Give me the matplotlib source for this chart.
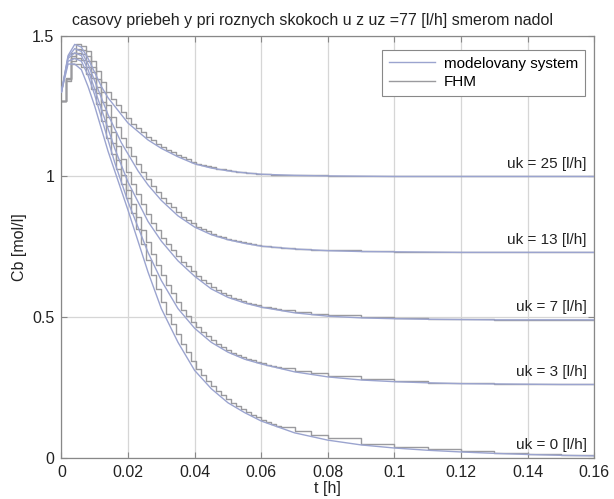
import numpy as np
import matplotlib.pyplot as plt

plt.rcParams['font.family'] = ['Liberation Sans', 'DejaVu Sans']

# time grid of the model curves [h]
t_model = [0, .002, .004, .006, .008, .01, .012, .014, .016, .018, .02, .023, .026, .03,
           .035, .04, .045, .05, .055, .06, .07, .08, .09, .1, .11, .12, .13, .14, .15, .16]

# modelovany system, Cb [mol/l] for each uk
model_uk25 = [1.30, 1.43, 1.47, 1.46, 1.42, 1.37, 1.32, 1.28, 1.25, 1.22, 1.19, 1.16, 1.13, 1.10,
              1.07, 1.045, 1.03, 1.02, 1.013, 1.008, 1.004, 1.002, 1.001, 1.0, 1.0, 1.0, 1.0, 1.0, 1.0, 1.0]
model_uk13 = [1.30, 1.425, 1.455, 1.445, 1.40, 1.34, 1.28, 1.22, 1.17, 1.12, 1.08, 1.02, 0.97, 0.915,
              0.86, 0.82, 0.793, 0.775, 0.762, 0.752, 0.742, 0.736, 0.733, 0.732, 0.731, 0.73, 0.73, 0.73, 0.73, 0.73]
model_uk7 = [1.30, 1.42, 1.44, 1.43, 1.38, 1.31, 1.24, 1.17, 1.10, 1.04, 0.98, 0.91, 0.84, 0.77,
             0.70, 0.645, 0.60, 0.57, 0.55, 0.535, 0.515, 0.503, 0.497, 0.494, 0.492, 0.491, 0.49, 0.49, 0.49, 0.49]
model_uk3 = [1.30, 1.41, 1.42, 1.41, 1.36, 1.29, 1.21, 1.13, 1.05, 0.98, 0.91, 0.82, 0.73, 0.63,
             0.53, 0.46, 0.41, 0.375, 0.35, 0.333, 0.305, 0.287, 0.276, 0.27, 0.266, 0.263, 0.262, 0.261, 0.26, 0.26]
model_uk0 = [1.30, 1.40, 1.40, 1.38, 1.32, 1.25, 1.17, 1.09, 1.02, 0.95, 0.88, 0.77, 0.66, 0.53,
             0.41, 0.31, 0.245, 0.195, 0.16, 0.13, 0.088, 0.062, 0.045, 0.034, 0.026, 0.02, 0.015, 0.011, 0.008, 0.006]

# sample times of the FHM (value held until next sample) [h]
t_fhm = [round(0.0015 * k, 4) for k in range(45)] + [.07, .075, .08, .09, .1, .11, .12, .13, .14, .15, .16]

fhm_uk25 = [1.27, 1.35, 1.44, 1.47, 1.465, 1.445, 1.41, 1.375, 1.335, 1.30, 1.275, 1.253, 1.23, 1.208,
            1.187, 1.172, 1.157, 1.142, 1.128, 1.117, 1.105, 1.095, 1.086, 1.077, 1.068, 1.061, 1.053,
            1.046, 1.041, 1.036, 1.032, 1.028, 1.025, 1.022, 1.019, 1.017, 1.015, 1.013, 1.012, 1.010,
            1.009, 1.008, 1.007, 1.006, 1.006,
            1.005, 1.004, 1.003, 1.002, 1.001, 1.0, 1.0, 1.0, 1.0, 1.0, 1.0]
fhm_uk13 = [1.27, 1.345, 1.43, 1.453, 1.45, 1.428, 1.39, 1.346, 1.30, 1.256, 1.212, 1.175, 1.137, 1.104,
            1.074, 1.044, 1.015, 0.99, 0.966, 0.945, 0.925, 0.906, 0.89, 0.873, 0.857, 0.846, 0.834,
            0.822, 0.813, 0.805, 0.797, 0.79, 0.785, 0.779, 0.774, 0.77, 0.766, 0.763, 0.759, 0.756,
            0.753, 0.751, 0.749, 0.748, 0.746,
            0.743, 0.74, 0.738, 0.734, 0.732, 0.731, 0.731, 0.73, 0.73, 0.73, 0.73]
fhm_uk7 = [1.27, 1.345, 1.423, 1.44, 1.435, 1.41, 1.37, 1.317, 1.265, 1.212, 1.16, 1.107, 1.061, 1.016,
           0.973, 0.938, 0.903, 0.868, 0.835, 0.808, 0.782, 0.759, 0.738, 0.717, 0.697, 0.68, 0.664,
           0.647, 0.633, 0.62, 0.606, 0.595, 0.586, 0.577, 0.569, 0.563, 0.557, 0.551, 0.546, 0.542,
           0.537, 0.534, 0.531, 0.528, 0.525,
           0.518, 0.512, 0.506, 0.499, 0.495, 0.493, 0.492, 0.491, 0.49, 0.49, 0.49]
fhm_uk3 = [1.27, 1.345, 1.412, 1.42, 1.415, 1.39, 1.35, 1.297, 1.238, 1.178, 1.118, 1.058, 1.005, 0.952,
           0.901, 0.856, 0.811, 0.766, 0.723, 0.685, 0.648, 0.614, 0.584, 0.554, 0.526, 0.505, 0.484,
           0.463, 0.447, 0.432, 0.417, 0.404, 0.394, 0.383, 0.373, 0.366, 0.358, 0.351, 0.346, 0.34,
           0.335, 0.331, 0.327, 0.323, 0.319,
           0.309, 0.30, 0.292, 0.279, 0.272, 0.267, 0.264, 0.262, 0.261, 0.26, 0.26]
fhm_uk0 = [1.27, 1.34, 1.40, 1.40, 1.39, 1.365, 1.31, 1.257, 1.198, 1.138, 1.079, 1.027, 0.975, 0.922,
           0.869, 0.814, 0.759, 0.704, 0.65, 0.601, 0.553, 0.511, 0.475, 0.439, 0.404, 0.374, 0.344,
           0.314, 0.293, 0.274, 0.254, 0.237, 0.222, 0.207, 0.193, 0.182, 0.172, 0.161, 0.152, 0.143,
           0.134, 0.127, 0.12, 0.114, 0.108,
           0.094, 0.081, 0.07, 0.05, 0.038, 0.029, 0.022, 0.016, 0.012, 0.009, 0.007]

uk_values = [25, 13, 7, 3, 0]
uk_final = [1.0, 0.73, 0.49, 0.26, 0.0]

model_curves = [model_uk25, model_uk13, model_uk7, model_uk3, model_uk0]
fhm_curves = [fhm_uk25, fhm_uk13, fhm_uk7, fhm_uk3, fhm_uk0]

model_color = '#9ba4cf'
fhm_color = '#9a9a9e'

fig = plt.figure(figsize=(6.14, 4.99), dpi=100)
ax = fig.add_axes([0.100, 0.083, 0.868, 0.845])

for i in range(len(uk_values)):
    ax.plot(t_model, model_curves[i], color=model_color, lw=1.0,
            label='modelovany system' if i == 0 else None, zorder=3)
    ax.plot(t_fhm, fhm_curves[i], color=fhm_color, lw=1.0, drawstyle='steps-post',
            label='FHM' if i == 0 else None, zorder=2)
    ax.text(0.1577, uk_final[i] + 0.02, 'uk = %d [l/h]' % uk_values[i],
            ha='right', va='bottom', fontsize=11, color='#222222')

ax.set_xlim(0, 0.16)
ax.set_ylim(0, 1.5)
ax.set_xticks([0, 0.02, 0.04, 0.06, 0.08, 0.1, 0.12, 0.14, 0.16])
ax.set_xticklabels(['0', '0.02', '0.04', '0.06', '0.08', '0.1', '0.12', '0.14', '0.16'])
ax.set_yticks([0, 0.5, 1, 1.5])
ax.set_yticklabels(['0', '0.5', '1', '1.5'])
ax.grid(True, color='#d6d6d6', lw=0.9)
ax.set_axisbelow(True)
ax.tick_params(direction='in', top=True, right=True, length=4, labelsize=11.5,
               color='#888888', labelcolor='#222222', pad=5)
for s in ax.spines.values():
    s.set_color('#888888')
    s.set_linewidth(0.9)

ax.set_title('casovy priebeh y pri roznych skokoch u z uz =77 [l/h] smerom nadol',
             fontsize=11.5, pad=8, color='#222222', x=0.471)
ax.set_xlabel('t [h]', fontsize=11.5, labelpad=1, color='#222222')
ax.set_ylabel('Cb [mol/l]', fontsize=11.5, labelpad=4, color='#222222')

leg = ax.legend(loc='upper right', fontsize=11, fancybox=False, framealpha=1,
                edgecolor='#888888', handlelength=3.0, handletextpad=0.6,
                borderpad=0.45, labelspacing=0.3, bbox_to_anchor=(0.997, 0.985))
leg.get_frame().set_linewidth(0.8)

fig.savefig('out.png', dpi=100)
